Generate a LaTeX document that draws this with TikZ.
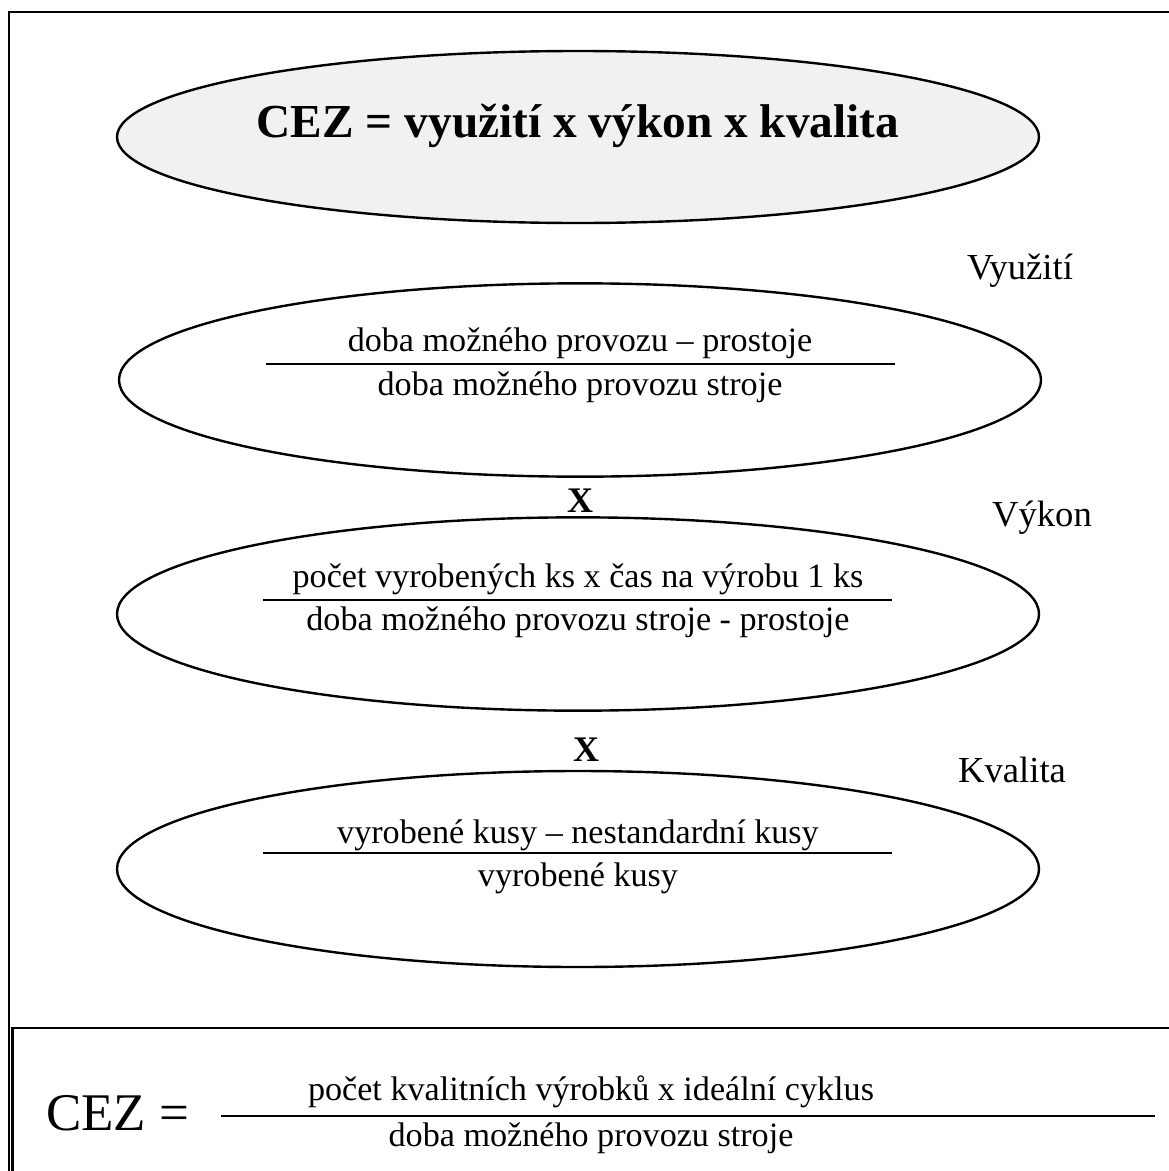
\documentclass[tikz,border=0pt]{standalone}
\usepackage{fontspec}
\setmainfont{Liberation Serif}
\usetikzlibrary{shapes.geometric}
\begin{document}
\begin{tikzpicture}[x=0.75pt,y=-0.75pt,
  frame/.style={line width=1.9pt},
  oval/.style={draw,ellipse,line width=1.8pt,inner sep=0pt,minimum width=691.5pt},
  rule/.style={line width=1.9pt},
  txt/.style={font=\fontsize{25.6}{30}\selectfont,inner sep=0pt},
  lbl/.style={font=\fontsize{27.5}{32}\selectfont,inner sep=0pt},
  times/.style={font=\fontsize{27}{32}\selectfont\bfseries,inner sep=0pt}]
\useasboundingbox (0,0) rectangle (1169,1171);
\begin{scope}
\clip (0,0) rectangle (1169,1171);
\draw[frame] (9,12) rectangle (1190,1190);
\draw[frame] (12.5,1028) rectangle (1190,1190);
\end{scope}
% title ellipse
\node[oval,fill={rgb,255:red,241;green,241;blue,241},minimum height=129pt] (e1) at (578,137) {};
\node[font=\fontsize{35.5}{40}\selectfont\bfseries,inner sep=0pt] (t1) at (578,126) {CEZ = využití x výkon x kvalita};
% Vyuziti
\node[lbl] (l1) at (1020,271) {Využití};
\node[oval,minimum height=145pt] (e2) at (580,380) {};
\coordinate (r2a) at (266,364); \coordinate (r2b) at (895,364);
\draw[rule] (r2a) -- (r2b);
\node[txt] (n2) at (580,343) {doba možného provozu – prostoje};
\node[txt] (d2) at (580,387) {doba možného provozu stroje};
\node[times] (x1) at (580,501) {X};
% Vykon
\node[lbl] (l2) at (1042,518) {Výkon};
\node[oval,minimum height=145pt] (e3) at (578,614) {};
\coordinate (r3a) at (263,600); \coordinate (r3b) at (892,600);
\draw[rule] (r3a) -- (r3b);
\node[txt] (n3) at (578,579) {počet vyrobených ks x čas na výrobu 1 ks};
\node[txt] (d3) at (578,622) {doba možného provozu stroje - prostoje};
\node[times] (x2) at (586,750) {X};
% Kvalita
\node[lbl] (l3) at (1012,770) {Kvalita};
\node[oval,minimum height=147pt] (e4) at (578,869) {};
\coordinate (r4a) at (263,853); \coordinate (r4b) at (892,853);
\draw[rule] (r4a) -- (r4b);
\node[txt] (n4) at (578,835) {vyrobené kusy – nestandardní kusy};
\node[txt] (d4) at (578,878) {vyrobené kusy};
% bottom
\node[font=\fontsize{39.7}{44}\selectfont,inner sep=0pt,anchor=west] (cez) at (46,1113) {CEZ =};
\coordinate (r5a) at (221,1116); \coordinate (r5b) at (1155,1116);
\draw[rule] (r5a) -- (r5b);
\node[txt] (n5) at (591,1092) {počet kvalitních výrobků x ideální cyklus};
\node[txt] (d5) at (591,1138) {doba možného provozu stroje};
\end{tikzpicture}
\end{document}
